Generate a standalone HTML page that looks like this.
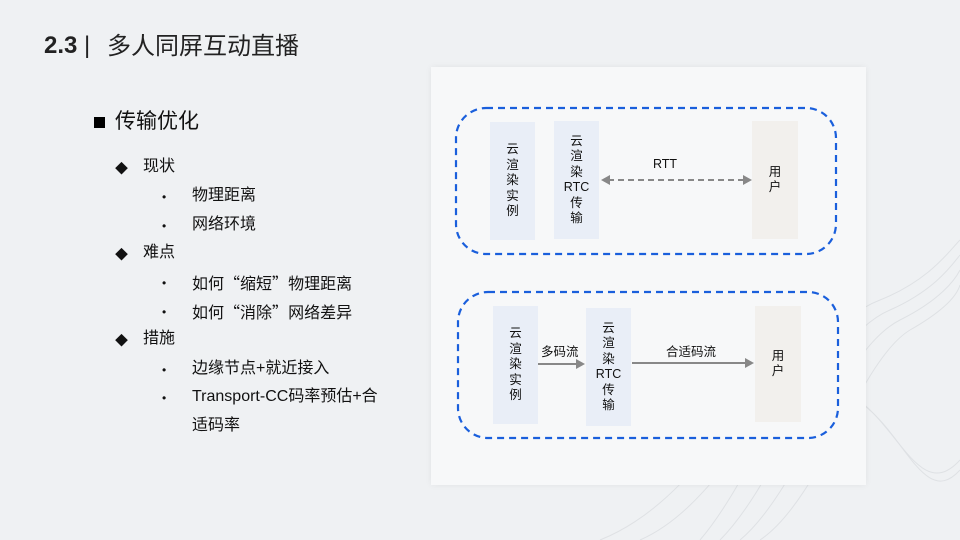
<!DOCTYPE html>
<html><head><meta charset="utf-8"><style>
*{margin:0;padding:0;box-sizing:border-box}
body{width:960px;height:540px;overflow:hidden;background:#eff1f3;font-family:"Liberation Sans","Noto Sans CJK SC",sans-serif;color:#111;position:relative}
.a{position:absolute;white-space:nowrap}
.panel{position:absolute;left:431px;top:67px;width:435px;height:418px;background:#f7f8f9;box-shadow:0 0 6px rgba(0,0,0,0.06)}
.box{position:absolute;display:flex;flex-direction:column;align-items:center;justify-content:center;font-size:12.5px;line-height:15.5px;color:#111}
.b1{background:#e9eef7}.b2{background:#f2f0ed}
.l{position:absolute;font-size:16px;line-height:20px;color:#111;white-space:nowrap}
.q{font-family:"Noto Sans CJK SC",sans-serif}
</style></head><body>
<svg class="a" style="left:0;top:0" width="960" height="540">
<g fill="none" stroke="#d4d7db" stroke-width="1" opacity="0.6">
<path d="M600 540 C700 500 730 390 810 384 C890 378 910 515 960 460"/>
<path d="M640 540 C720 505 750 400 820 392 C895 384 915 520 960 470"/>
<path d="M700 540 C760 470 800 330 880 300 C930 280 950 250 960 240"/>
<path d="M720 540 C780 480 820 340 890 310 C935 290 952 265 960 255"/>
<path d="M740 540 C800 490 840 350 900 320 C940 300 955 280 960 270"/>
<path d="M760 540 C820 500 860 360 910 330 C945 310 957 295 960 285"/>
</g></svg>
<div class="a" style="left:44px;top:31px;font-size:24px;line-height:30px;font-weight:bold;color:#222">2.3 <span style="font-weight:normal">|</span></div>
<div class="a" style="left:107px;top:32px;font-size:24px;line-height:30px;color:#222">多人同屏互动直播</div>
<div class="a" style="left:94px;top:117px;width:11px;height:11px;background:#000"></div>
<div class="a" style="left:115px;top:109px;font-size:21px;line-height:26px">传输优化</div>
<div class="a" style="left:115px;top:158px;font-size:13px">◆</div>
<div class="l" style="left:143px;top:157px">现状</div>
<div class="a" style="left:115px;top:244px;font-size:13px">◆</div>
<div class="l" style="left:143px;top:243px">难点</div>
<div class="a" style="left:115px;top:330px;font-size:13px">◆</div>
<div class="l" style="left:143px;top:329px">措施</div>
<div class="l" style="left:162px;top:187px;font-size:12px">•</div><div class="l" style="left:192px;top:186px">物理距离</div>
<div class="l" style="left:162px;top:216px;font-size:12px">•</div><div class="l" style="left:192px;top:215px">网络环境</div>
<div class="l" style="left:162px;top:273px;font-size:12px">•</div><div class="l" style="left:192px;top:272px">如何<span class="q">“</span>缩短<span class="q">”</span>物理距离</div>
<div class="l" style="left:162px;top:302px;font-size:12px">•</div><div class="l" style="left:192px;top:301px">如何<span class="q">“</span>消除<span class="q">”</span>网络差异</div>
<div class="l" style="left:162px;top:360px;font-size:12px">•</div><div class="l" style="left:192px;top:359px">边缘节点+就近接入</div>
<div class="l" style="left:162px;top:388px;font-size:12px">•</div><div class="l" style="left:192px;top:387px">Transport-CC码率预估+合</div>
<div class="l" style="left:192px;top:416px">适码率</div>
<div class="panel"></div>
<svg class="a" style="left:0;top:0" width="960" height="540">
<rect x="456" y="108" width="380" height="146" rx="30" fill="none" stroke="#1a5fdc" stroke-width="2.2" stroke-dasharray="7,5"/>
<rect x="458" y="292" width="380" height="146" rx="30" fill="none" stroke="#1a5fdc" stroke-width="2.2" stroke-dasharray="7,5"/>
<line x1="608" y1="180" x2="746" y2="180" stroke="#888" stroke-width="2" stroke-dasharray="6,4"/>
<polygon points="601,180 610,175 610,185" fill="#888"/>
<polygon points="752,180 743,175 743,185" fill="#888"/>
<line x1="538" y1="364" x2="578" y2="364" stroke="#888" stroke-width="2"/>
<polygon points="585,364 576,359 576,369" fill="#888"/>
<line x1="632" y1="363" x2="746" y2="363" stroke="#888" stroke-width="2"/>
<polygon points="754,363 745,358 745,368" fill="#888"/>
</svg>
<div class="box b1" style="left:490px;top:122px;width:45px;height:118px"><span>云</span><span>渲</span><span>染</span><span>实</span><span>例</span></div>
<div class="box b1" style="left:554px;top:121px;width:45px;height:118px"><span>云</span><span>渲</span><span>染</span><span>RTC</span><span>传</span><span>输</span></div>
<div class="box b2" style="left:752px;top:121px;width:46px;height:118px"><span>用</span><span>户</span></div>
<div class="a" style="left:653px;top:157px;font-size:12.5px">RTT</div>
<div class="box b1" style="left:493px;top:306px;width:45px;height:118px"><span>云</span><span>渲</span><span>染</span><span>实</span><span>例</span></div>
<div class="box b1" style="left:586px;top:308px;width:45px;height:118px"><span>云</span><span>渲</span><span>染</span><span>RTC</span><span>传</span><span>输</span></div>
<div class="box b2" style="left:755px;top:306px;width:46px;height:116px"><span>用</span><span>户</span></div>
<div class="a" style="left:541px;top:341px;font-size:12.5px">多码流</div>
<div class="a" style="left:666px;top:341px;font-size:12.5px">合适码流</div>
</body></html>
